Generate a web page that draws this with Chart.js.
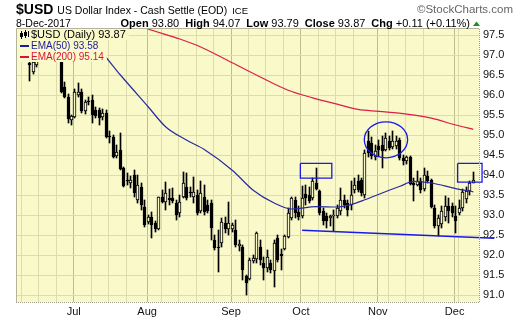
<!DOCTYPE html>
<html>
<head>
<meta charset="utf-8">
<script src="https://cdn.jsdelivr.net/npm/chart.js@4.4.1/dist/chart.umd.min.js"></script>
<style>
html,body{margin:0;padding:0;background:#ffffff;}
canvas{display:block;}
</style>
</head>
<body>
<canvas id="chart" width="520" height="318"></canvas>
<script>
// ================= DATA =================
const dates = [
 '2017-06-13','2017-06-14','2017-06-15','2017-06-16','2017-06-19','2017-06-20','2017-06-21','2017-06-22','2017-06-23','2017-06-26','2017-06-27','2017-06-28','2017-06-29','2017-06-30',
 '2017-07-03','2017-07-04','2017-07-05','2017-07-06','2017-07-07','2017-07-10','2017-07-11','2017-07-12','2017-07-13','2017-07-14','2017-07-17','2017-07-18','2017-07-19','2017-07-20','2017-07-21','2017-07-24','2017-07-25','2017-07-26','2017-07-27','2017-07-28','2017-07-31',
 '2017-08-01','2017-08-02','2017-08-03','2017-08-04','2017-08-07','2017-08-08','2017-08-09','2017-08-10','2017-08-11','2017-08-14','2017-08-15','2017-08-16','2017-08-17','2017-08-18','2017-08-21','2017-08-22','2017-08-23','2017-08-24','2017-08-25','2017-08-28','2017-08-29','2017-08-30','2017-08-31',
 '2017-09-01','2017-09-04','2017-09-05','2017-09-06','2017-09-07','2017-09-08','2017-09-11','2017-09-12','2017-09-13','2017-09-14','2017-09-15','2017-09-18','2017-09-19','2017-09-20','2017-09-21','2017-09-22','2017-09-25','2017-09-26','2017-09-27','2017-09-28','2017-09-29',
 '2017-10-02','2017-10-03','2017-10-04','2017-10-05','2017-10-06','2017-10-09','2017-10-10','2017-10-11','2017-10-12','2017-10-13','2017-10-16','2017-10-17','2017-10-18','2017-10-19','2017-10-20','2017-10-23','2017-10-24','2017-10-25','2017-10-26','2017-10-27','2017-10-30','2017-10-31',
 '2017-11-01','2017-11-02','2017-11-03','2017-11-06','2017-11-07','2017-11-08','2017-11-09','2017-11-10','2017-11-13','2017-11-14','2017-11-15','2017-11-16','2017-11-17','2017-11-20','2017-11-21','2017-11-22','2017-11-23','2017-11-24','2017-11-27','2017-11-28','2017-11-29','2017-11-30',
 '2017-12-01','2017-12-04','2017-12-05','2017-12-06','2017-12-07','2017-12-08'
];
const openVals = [
 97.05,96.80,96.58,96.75,96.95,97.40,97.70,97.55,97.60,97.25,97.40,96.20,95.96,95.38,
 95.45,96.00,96.08,95.60,95.85,95.88,95.63,95.63,95.45,95.54,94.98,94.94,94.47,94.63,94.17,93.86,93.80,94.00,93.38,93.71,93.21,
 92.83,92.96,92.80,92.64,93.44,93.33,93.42,93.43,93.31,93.04,93.44,93.71,93.58,93.45,93.50,93.10,93.46,93.25,93.29,92.38,92.21,92.31,92.80,
 92.65,92.65,92.63,92.23,92.21,91.48,91.39,91.86,91.90,92.21,91.79,91.67,91.79,91.60,92.42,92.02,92.14,92.46,92.93,93.38,93.07,
 92.97,93.53,93.50,93.43,93.80,93.59,93.09,92.97,92.93,92.97,92.97,93.09,93.38,93.30,93.25,93.63,93.84,93.88,93.51,94.84,94.80,94.45,
 94.72,94.76,94.63,94.84,94.70,94.72,94.88,94.43,94.35,94.44,93.80,93.76,93.84,93.65,93.97,93.88,93.18,92.72,92.78,92.95,93.22,93.22,
 92.97,93.05,93.18,93.40,93.59,93.80
];
const highVals = [
 97.15,96.85,96.88,96.98,97.45,97.80,97.80,97.70,97.65,97.50,97.50,96.32,96.02,95.50,
 96.15,96.29,96.15,95.88,95.95,96.00,95.70,95.68,95.65,95.62,95.10,95.00,94.75,95.04,94.20,94.04,93.98,94.13,94.00,93.80,93.38,
 93.00,93.08,92.85,93.45,93.63,93.83,93.65,93.68,93.38,93.50,94.08,94.04,93.70,93.96,93.63,93.85,93.75,93.38,93.38,92.50,92.63,92.92,92.96,
 93.33,92.80,92.88,92.38,92.25,91.50,91.92,92.00,92.58,92.38,91.96,92.13,91.88,92.38,92.50,92.15,92.50,93.17,93.46,93.45,93.22,
 93.72,93.76,93.70,93.93,94.18,93.63,93.18,93.05,93.00,93.13,93.26,93.68,93.50,93.38,93.84,93.93,94.00,93.93,94.63,95.09,94.95,94.75,
 94.88,94.97,95.05,94.97,95.09,94.97,94.93,94.50,94.48,94.47,93.93,94.09,93.93,94.18,94.10,93.90,93.26,93.01,93.22,93.47,93.43,93.30,
 93.22,93.38,93.65,93.70,93.84,94.07
];
const lowVals = [
 96.90,96.34,96.52,96.70,96.90,97.35,97.40,97.45,97.15,97.15,96.05,95.92,95.30,95.26,
 95.42,95.95,95.55,95.52,95.75,95.30,95.42,95.26,95.38,94.93,94.80,94.42,94.42,94.12,93.70,93.75,93.67,93.46,93.30,93.13,92.70,
 92.78,92.42,92.58,92.62,93.29,93.13,93.25,93.30,92.88,92.95,93.42,93.38,93.45,93.30,93.00,93.05,93.00,93.04,92.38,92.13,91.58,92.21,92.54,
 92.50,92.58,92.21,92.10,91.38,91.01,91.38,91.79,91.80,91.75,91.38,91.58,91.54,91.21,91.83,91.63,92.12,92.42,92.88,92.92,92.88,
 92.93,93.26,93.30,93.38,93.63,93.01,92.76,92.68,92.72,92.59,92.92,93.01,93.18,92.97,93.13,93.55,93.58,93.47,93.43,94.46,94.40,94.38,
 94.47,94.18,94.59,94.63,94.64,94.66,94.38,94.26,94.28,93.75,93.34,93.72,93.55,93.60,93.80,93.18,92.68,92.47,92.68,92.84,92.80,92.95,
 92.55,93.01,93.10,93.30,93.51,93.79
];
const closeVals = [
 96.95,96.74,96.83,96.90,97.40,97.70,97.55,97.60,97.25,97.40,96.08,95.96,95.40,95.47,
 96.08,96.08,95.60,95.83,95.83,95.50,95.47,95.42,95.55,94.96,94.94,94.46,94.58,94.15,93.72,93.84,93.88,93.55,93.75,93.25,92.75,
 92.96,92.75,92.64,93.44,93.33,93.56,93.38,93.35,93.00,93.33,93.81,93.42,93.54,93.58,93.04,93.55,93.08,93.10,92.67,92.17,92.17,92.83,92.65,
 92.80,92.75,92.25,92.27,91.63,91.31,91.88,91.92,92.54,91.88,91.67,91.96,91.63,92.29,91.88,91.98,92.48,93.04,93.43,93.05,92.94,
 93.43,93.43,93.36,93.86,93.66,93.05,92.84,92.84,92.97,93.00,93.18,93.38,93.25,93.13,93.51,93.76,93.63,93.55,94.55,94.55,94.48,94.60,
 94.63,94.59,94.93,94.68,94.85,94.84,94.43,94.36,94.44,93.78,93.76,93.84,93.63,94.01,93.86,93.20,92.72,92.93,93.09,93.22,93.09,93.05,
 92.86,93.18,93.58,93.59,93.80,93.87
];
// EMA overlays (values read at sample dates)
const ema50Dates = ['2017-06-29','2017-07-12','2017-07-20','2017-08-01','2017-08-08','2017-08-16','2017-08-23','2017-09-04','2017-09-12','2017-09-20','2017-09-27','2017-10-06','2017-10-16','2017-10-20','2017-10-26','2017-11-01','2017-11-09','2017-11-15','2017-11-22','2017-12-01','2017-12-08'];
const ema50Vals  = [97.68,97.12,96.50,95.70,95.20,94.87,94.64,94.12,93.62,93.30,93.15,93.21,93.20,93.26,93.38,93.52,93.72,93.84,93.80,93.66,93.58];
const ema200Dates = ['2017-07-20','2017-07-31','2017-08-14','2017-08-22','2017-09-01','2017-09-14','2017-09-26','2017-10-05','2017-10-16','2017-10-24','2017-11-01','2017-11-13','2017-11-22','2017-12-01','2017-12-08'];
const ema200Vals  = [97.95,97.68,97.40,97.20,96.85,96.45,96.12,95.93,95.77,95.64,95.59,95.52,95.42,95.25,95.14];
// axis ticks
const yTickVals = [91.0,91.5,92.0,92.5,93.0,93.5,94.0,94.5,95.0,95.5,96.0,96.5,97.0,97.5];
const monthDates  = ['2017-07-03','2017-08-01','2017-09-04','2017-10-02','2017-11-01','2017-12-01'];
const monthLabels = ['Jul','Aug','Sep','Oct','Nov','Dec'];
const weekDates = ['2017-06-12','2017-06-19','2017-06-26','2017-07-10','2017-07-17','2017-07-24','2017-08-07','2017-08-14','2017-08-21','2017-08-28','2017-09-11','2017-09-18','2017-09-25','2017-10-09','2017-10-16','2017-10-23','2017-11-06','2017-11-13','2017-11-20','2017-12-04'];
// annotations (drawn on chart by the analyst)
const trendDates = ['2017-10-02','2017-12-18'];
const trendVals  = [92.62, 92.42];
const box1 = {from:'2017-10-02', to:'2017-10-12', hi:94.29, lo:93.92};
const box2 = {from:'2017-12-04', to:'2017-12-12', hi:94.29, lo:93.82};
const ellipse1 = {center:'2017-11-03', value:94.88, halfDays:6.2, halfRange:0.45};
// header text
const symbolText = '$USD';
const titleText = 'US Dollar Index - Cash Settle (EOD)';
const exchText = 'ICE';
const dateText = '8-Dec-2017';
const quotePairs = [['Open','93.80'],['High','94.07'],['Low','93.79'],['Close','93.87'],['Chg','+0.11 (+0.11%)']];
const legendItems = [
  {text:'$USD (Daily) 93.87', color:'#000000'},
  {text:'EMA(50) 93.58', color:'#1c1c9c'},
  {text:'EMA(200) 95.14', color:'#d8143c'}
];

// ================= HELPERS =================
const BASE = Date.UTC(2017,5,8); // slot 0 = 8-Jun-2017
function slotOf(s){
  const p = s.split('-').map(Number);
  const end = Date.UTC(p[0],p[1]-1,p[2]);
  let t = BASE, n = 0;
  while (t < end){ t += 864e5; const wd = new Date(t).getUTCDay(); if (wd!==0 && wd!==6) n++; }
  return n;
}
const PLOT_BG = '#f9f9ca';
const GRID_MINOR = '#dcdcac';
const GRID_MAJOR = '#bdbd8a';
const ANNOT = '#1a1ae6';
const FONT = '"Liberation Sans", Arial, sans-serif';
const GRID_SHIFT = -0.35;

const X = dates.map(slotOf);
const bodyData = X.map((x,i)=>({x, y:[openVals[i], closeVals[i]]}));
const wickData = X.map((x,i)=>({x, y:[lowVals[i], highVals[i]]}));
const ema50Data = ema50Dates.map((d,i)=>({x:slotOf(d), y:ema50Vals[i]}));
const ema200Data = ema200Dates.map((d,i)=>({x:slotOf(d), y:ema200Vals[i]}));
const trendData = trendDates.map((d,i)=>({x:slotOf(d), y:trendVals[i]}));
function boxData(b){
  const a = slotOf(b.from)-0.5, c = slotOf(b.to)+0.5;
  return [{x:a,y:b.hi},{x:c,y:b.hi},{x:c,y:b.lo},{x:a,y:b.lo},{x:a,y:b.hi}];
}
const monthSlots = monthDates.map(d=>slotOf(d)+GRID_SHIFT);
const weekSlots = weekDates.map(d=>slotOf(d)+GRID_SHIFT);
const gridSlots = monthSlots.concat(weekSlots).sort((a,b)=>a-b);
const isMonth = v => monthSlots.some(m=>Math.abs(m-v)<1e-6);
const monthLabelOf = v => { const k = monthSlots.findIndex(m=>Math.abs(m-v)<1e-6); return k>=0 ? monthLabels[k] : ''; };

// ================= PLUGINS =================
function drawHeader(ctx){
  ctx.save();
  ctx.textBaseline = 'alphabetic';
  ctx.fillStyle = '#000';
  ctx.font = 'bold 14px ' + FONT;
  ctx.fillText(symbolText, 16, 14);
  let x = 16 + ctx.measureText(symbolText).width + 4;
  ctx.font = '10.5px ' + FONT;
  ctx.fillText(titleText, x, 14);
  x += ctx.measureText(titleText).width + 5;
  ctx.font = '9.5px ' + FONT;
  ctx.fillText(exchText, x, 14);
  ctx.fillStyle = '#666';
  ctx.font = '11.5px ' + FONT;
  ctx.textAlign = 'right';
  ctx.fillText('\u00A9StockCharts.com', 513, 13);
  ctx.textAlign = 'left';
  ctx.fillStyle = '#000';
  ctx.font = '10.5px ' + FONT;
  ctx.fillText(dateText, 16, 26.5);
  // quote line, right aligned
  const gap = 6;
  const qf = 11;
  let total = 0;
  quotePairs.forEach(([l,v],i)=>{
    ctx.font = 'bold ' + qf + 'px ' + FONT; total += ctx.measureText(l+' ').width;
    ctx.font = qf + 'px ' + FONT; total += ctx.measureText(v).width + (i<quotePairs.length-1?gap:0);
  });
  x = 470 - total;
  quotePairs.forEach(([l,v])=>{
    ctx.font = 'bold ' + qf + 'px ' + FONT; ctx.fillText(l+' ', x, 26.5); x += ctx.measureText(l+' ').width;
    ctx.font = qf + 'px ' + FONT; ctx.fillText(v, x, 26.5); x += ctx.measureText(v).width + gap;
  });
  ctx.fillStyle = '#1f8f1f';
  ctx.beginPath(); ctx.moveTo(473,26); ctx.lineTo(480,26); ctx.lineTo(476.5,21.5); ctx.closePath(); ctx.fill();
  ctx.restore();
}
function drawLegend(ctx){
  ctx.save();
  const bases = [38, 49, 60];
  const fonts = ['11px ' + FONT, '10px ' + FONT, '10px ' + FONT];
  legendItems.forEach((it,i)=>{
    ctx.font = fonts[i];
    const w = ctx.measureText(it.text).width;
    const top = 29 + i*11;
    ctx.fillStyle = PLOT_BG;
    ctx.fillRect(17, top, 14 + w + 3, 11);
    ctx.fillStyle = it.color;
    ctx.fillText(it.text, 31, bases[i]);
    if (i === 0){
      ctx.fillStyle = '#000';
      ctx.fillRect(21, 31, 1, 8); ctx.fillRect(20, 33, 3, 4);
      ctx.fillRect(25, 30, 1, 8); ctx.strokeStyle = '#000'; ctx.lineWidth = 1; ctx.strokeRect(24.5, 32.5, 2, 3);
      ctx.fillRect(28, 31, 1, 6);
    } else {
      ctx.fillRect(20, top + 5, 9, 2);
    }
  });
  ctx.restore();
}
function drawFrame(chart){
  const {ctx, chartArea:a} = chart;
  ctx.save();
  ctx.strokeStyle = '#b4b49a'; ctx.lineWidth = 1;
  ctx.beginPath(); ctx.moveTo(a.left-0.5, a.bottom); ctx.lineTo(a.left-0.5, a.top-0.5); ctx.lineTo(a.right, a.top-0.5); ctx.stroke();
  ctx.strokeStyle = '#9a9a8a'; ctx.setLineDash([1,1]);
  ctx.beginPath(); ctx.moveTo(a.right+0.5, a.top); ctx.lineTo(a.right+0.5, a.bottom+1); ctx.stroke();
  ctx.beginPath(); ctx.moveTo(a.left-1, a.bottom+0.5); ctx.lineTo(a.right+1, a.bottom+0.5); ctx.stroke();
  ctx.restore();
}
const decor = {
  id:'decor',
  beforeDraw(chart){
    const {ctx, chartArea:a} = chart;
    ctx.save();
    ctx.fillStyle = '#ffffff'; ctx.fillRect(0,0,chart.width,chart.height);
    ctx.fillStyle = PLOT_BG; ctx.fillRect(a.left, a.top, a.right-a.left, a.bottom-a.top);
    ctx.restore();
  },
  beforeDatasetsDraw(chart){
    // snap candle elements to whole pixels so they render crisp
    chart.data.datasets.forEach((ds,i)=>{
      if (ds.type !== 'bar') return;
      chart.getDatasetMeta(i).data.forEach(el=>{
        el.x = Math.floor(el.x) + 0.5;
        let t = Math.round(el.y), b = Math.round(el.base);
        if (Math.abs(b - t) < 1) b = t + 1;
        el.y = t; el.base = b;
      });
    });
  },
  afterDatasetsDraw(chart){
    const {ctx, scales:{x,y}} = chart;
    const c = slotOf(ellipse1.center);
    const cx = x.getPixelForValue(c), cy = y.getPixelForValue(ellipse1.value);
    const rx = Math.abs(x.getPixelForValue(c + ellipse1.halfDays) - cx);
    const ry = Math.abs(y.getPixelForValue(ellipse1.value + ellipse1.halfRange) - cy);
    ctx.save();
    ctx.strokeStyle = ANNOT; ctx.lineWidth = 1.3;
    ctx.beginPath(); ctx.ellipse(cx, cy, rx, ry, 0, 0, Math.PI*2); ctx.stroke();
    ctx.restore();
    drawLegend(ctx);
    drawFrame(chart);
  },
  afterDraw(chart){ drawHeader(chart.ctx); }
};

// ================= CHART =================
new Chart(document.getElementById('chart'), {
  type: 'bar',
  data: {
    datasets: [
      {type:'line', data: boxData(box1), borderColor: ANNOT, borderWidth: 1.3, pointRadius: 0, clip: false, order: 0, tension: 0},
      {type:'line', data: boxData(box2), borderColor: ANNOT, borderWidth: 1.3, pointRadius: 0, clip: false, order: 0, tension: 0},
      {type:'line', data: trendData, borderColor: ANNOT, borderWidth: 1.6, pointRadius: 0, clip: false, order: 0},
      {type:'line', data: ema50Data, borderColor: '#2a2aa0', borderWidth: 1.2, pointRadius: 0, cubicInterpolationMode: 'monotone', order: 1},
      {type:'line', data: ema200Data, borderColor: '#dc1e46', borderWidth: 1.2, pointRadius: 0, cubicInterpolationMode: 'monotone', order: 1},
      {type:'bar', data: bodyData, grouped: false, barThickness: 3, minBarLength: 1, borderWidth: 1, borderSkipped: false,
        borderColor: '#000',
        backgroundColor: c => (closeVals[c.dataIndex] < openVals[c.dataIndex]) ? '#000000' : PLOT_BG, order: 2},
      {type:'bar', data: wickData, grouped: false, barThickness: 1, backgroundColor: '#000', borderWidth: 0, order: 3}
    ]
  },
  options: {
    responsive: false, animation: false, devicePixelRatio: 1,
    layout: {padding: {left: 17, top: 29, right: 0, bottom: 0}},
    plugins: {legend: {display: false}, tooltip: {enabled: false}},
    scales: {
      x: {
        type: 'linear', min: 0.40, max: 132.63, offset: false,
        afterBuildTicks: s => { s.ticks = gridSlots.map(v=>({value:v})); },
        afterFit: s => { s.height = 16; },
        grid: {offset: false, drawTicks: false, lineWidth: 1, color: c => isMonth(c.tick.value) ? GRID_MAJOR : GRID_MINOR},
        border: {display: false},
        ticks: {autoSkip: false, maxRotation: 0, padding: 3, color: '#111', font: {family: 'Liberation Sans', size: 11},
          callback: v => monthLabelOf(v)}
      },
      y: {
        position: 'right', min: 90.825, max: 97.65,
        afterBuildTicks: s => { s.ticks = yTickVals.map(v=>({value:v})); },
        afterFit: s => { s.width = 41; },
        grid: {drawTicks: false, color: GRID_MINOR, lineWidth: 1},
        border: {display: false},
        ticks: {padding: 4, color: '#111', font: {family: 'Liberation Sans', size: 11}, callback: v => Number(v).toFixed(1)}
      }
    }
  },
  plugins: [decor]
});
</script>
</body>
</html>
